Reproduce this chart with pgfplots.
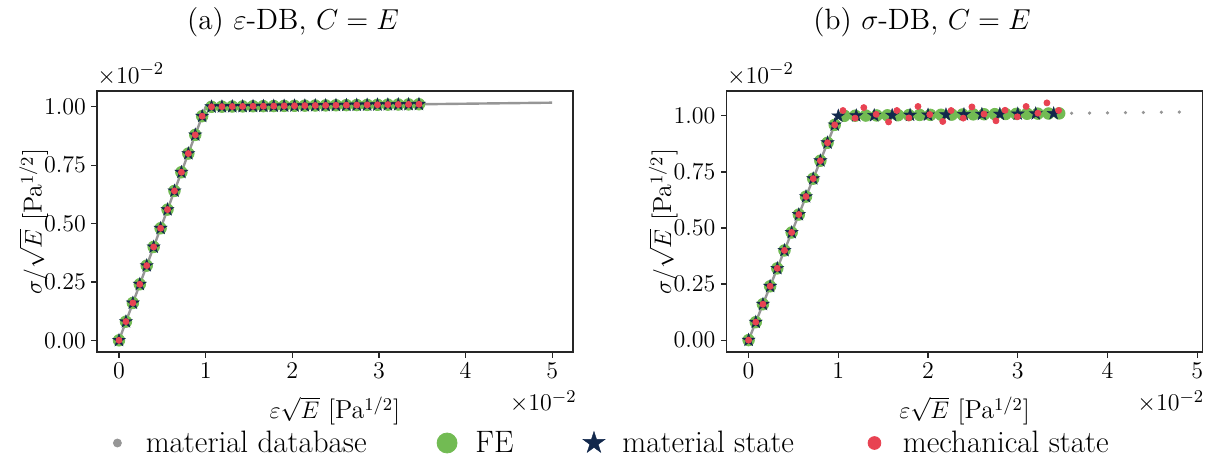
\documentclass[border=0pt]{standalone}
\usepackage{pgfplots}
\pgfplotsset{compat=1.18}
\definecolor{dbgray}{RGB}{150,150,150}
\definecolor{fegreen}{RGB}{114,187,83}
\definecolor{navy}{RGB}{18,40,76}
\definecolor{mechred}{RGB}{232,66,82}
\pgfdeclareplotmark{fstar}{%
  \pgfpathmoveto{\pgfpointpolar{90}{\pgfplotmarksize}}%
  \pgfpathlineto{\pgfpointpolar{126}{0.382\pgfplotmarksize}}%
  \pgfpathlineto{\pgfpointpolar{162}{\pgfplotmarksize}}%
  \pgfpathlineto{\pgfpointpolar{198}{0.382\pgfplotmarksize}}%
  \pgfpathlineto{\pgfpointpolar{234}{\pgfplotmarksize}}%
  \pgfpathlineto{\pgfpointpolar{270}{0.382\pgfplotmarksize}}%
  \pgfpathlineto{\pgfpointpolar{306}{\pgfplotmarksize}}%
  \pgfpathlineto{\pgfpointpolar{342}{0.382\pgfplotmarksize}}%
  \pgfpathlineto{\pgfpointpolar{18}{\pgfplotmarksize}}%
  \pgfpathlineto{\pgfpointpolar{54}{0.382\pgfplotmarksize}}%
  \pgfpathclose\pgfusepathqfillstroke}
\pgfplotsset{ddstyle/.style={
  scale only axis, width=238pt, height=130.5pt,
  axis line style={black!85, line width=0.6pt},
  tick align=outside, tick pos=left,
  major tick length=2.8pt,
  every tick/.style={black!85, line width=0.6pt},
  xtick={0,1,2,3,4,5}, ytick={0,0.25,0.5,0.75,1},
  yticklabel style={/pgf/number format/.cd, fixed, fixed zerofill, precision=2},
  tick label style={font=\fontsize{12.2}{14}\selectfont, inner sep=2.6pt},
  label style={font=\fontsize{13}{15}\selectfont},
  xlabel={$\varepsilon\sqrt{E}$ [Pa$^{1/2}$]},
  ylabel={$\sigma/\sqrt{E}$ [Pa$^{1/2}$]},
  xlabel style={at={(axis description cs:0.5,-0.226)}, anchor=center, inner sep=0.5pt},
  ylabel style={at={(axis description cs:-0.133,0.5)}, anchor=center, inner sep=0.5pt},
  scaled ticks=false, clip=false,
}}
\begin{document}
\begin{tikzpicture}
\useasboundingbox (0,0) rectangle (605pt,229.5pt);
% ---------------- (a) ----------------
\begin{axis}[ddstyle, at={(48.5pt,53.5pt)}, anchor=south west,
  xmin=-0.254, xmax=5.24, ymin=-0.05, ymax=1.068]
\addplot[dbgray, line width=1.2pt, no marks] coordinates {(0,0) (1,1) (5,1.018)};
\addplot[only marks, mark=*, mark size=2.9pt, color=fegreen] coordinates {
(0,0)(0.08,0.08)(0.16,0.16)(0.24,0.24)(0.32,0.32)(0.40,0.40)(0.48,0.48)(0.56,0.56)(0.64,0.64)(0.72,0.72)(0.80,0.80)(0.88,0.88)(0.96,0.96)
(1.068,1.0003)(1.188,1.0008)(1.307,1.0014)(1.427,1.0019)(1.547,1.0025)(1.666,1.0030)(1.786,1.0035)(1.906,1.0041)(2.026,1.0046)(2.145,1.0052)(2.265,1.0057)(2.385,1.0062)(2.504,1.0068)(2.624,1.0073)(2.744,1.0078)(2.864,1.0084)(2.983,1.0089)(3.103,1.0095)(3.223,1.0100)(3.342,1.0105)(3.462,1.0111)};
\addplot[only marks, mark=fstar, mark size=3.4pt, color=navy, mark options={fill=navy, draw=navy, line width=0.2pt}] coordinates {
(0,0)(0.08,0.08)(0.16,0.16)(0.24,0.24)(0.32,0.32)(0.40,0.40)(0.48,0.48)(0.56,0.56)(0.64,0.64)(0.72,0.72)(0.80,0.80)(0.88,0.88)(0.96,0.96)
(1.068,1.0003)(1.188,1.0008)(1.307,1.0014)(1.427,1.0019)(1.547,1.0025)(1.666,1.0030)(1.786,1.0035)(1.906,1.0041)(2.026,1.0046)(2.145,1.0052)(2.265,1.0057)(2.385,1.0062)(2.504,1.0068)(2.624,1.0073)(2.744,1.0078)(2.864,1.0084)(2.983,1.0089)(3.103,1.0095)(3.223,1.0100)(3.342,1.0105)(3.462,1.0111)};
\addplot[only marks, mark=*, mark size=1.5pt, color=mechred] coordinates {
(0,0)(0.08,0.08)(0.16,0.16)(0.24,0.24)(0.32,0.32)(0.40,0.40)(0.48,0.48)(0.56,0.56)(0.64,0.64)(0.72,0.72)(0.80,0.80)(0.88,0.88)(0.96,0.96)
(1.068,1.0003)(1.188,1.0008)(1.307,1.0014)(1.427,1.0019)(1.547,1.0025)(1.666,1.0030)(1.786,1.0035)(1.906,1.0041)(2.026,1.0046)(2.145,1.0052)(2.265,1.0057)(2.385,1.0062)(2.504,1.0068)(2.624,1.0073)(2.744,1.0078)(2.864,1.0084)(2.983,1.0089)(3.103,1.0095)(3.223,1.0100)(3.342,1.0105)(3.462,1.0111)};
\node[anchor=south west, inner sep=0pt, font=\fontsize{12.2}{14}\selectfont] at (rel axis cs:0,1) [yshift=2.5pt] {$\times10^{-2}$};
\node[anchor=east, inner sep=0pt, font=\fontsize{12.2}{14}\selectfont] at (axis description cs:1,-0.19) [xshift=2pt] {$\times10^{-2}$};
\end{axis}
% ---------------- (b) ----------------
\begin{axis}[ddstyle, at={(363.3pt,53.5pt)}, anchor=south west,
  xmin=-0.245, xmax=5.06, ymin=-0.053, ymax=1.111,
  legend columns=4,
  legend style={at={(-0.2516,-0.3487)}, anchor=center, draw=none, fill=none,
    font=\fontsize{15.5}{18}\selectfont,
    /tikz/every even column/.append style={column sep=30pt}},
  legend image code/.code={\path (0pt,0pt) (20pt,0pt); \draw[#1] plot coordinates {(8pt,0pt)};}]
\addplot[dbgray, line width=1.2pt, no marks, forget plot] coordinates {(0,0) (1,1)};
\addplot[only marks, mark=*, mark size=0.6pt, color=dbgray, forget plot] coordinates {
(1.0,1.0)(1.2,1.0009)(1.4,1.0018)(1.6,1.0027)(1.8,1.0036)(2.0,1.0045)(2.2,1.0054)(2.4,1.0063)(2.6,1.0072)(2.8,1.0081)(3.0,1.0090)(3.2,1.0099)(3.4,1.0108)(3.6,1.0117)(3.8,1.0126)(4.0,1.0135)(4.2,1.0144)(4.4,1.0153)(4.6,1.0162)(4.8,1.0171)};
\addplot[only marks, mark=*, mark size=2.9pt, color=fegreen, forget plot] coordinates {
(0,0)(0.08,0.08)(0.16,0.16)(0.24,0.24)(0.32,0.32)(0.40,0.40)(0.48,0.48)(0.56,0.56)(0.64,0.64)(0.72,0.72)(0.80,0.80)(0.88,0.88)(0.96,0.96)
(1.068,1.0003)(1.188,1.0008)(1.307,1.0014)(1.427,1.0019)(1.547,1.0025)(1.666,1.0030)(1.786,1.0035)(1.906,1.0041)(2.026,1.0046)(2.145,1.0052)(2.265,1.0057)(2.385,1.0062)(2.504,1.0068)(2.624,1.0073)(2.744,1.0078)(2.864,1.0084)(2.983,1.0089)(3.103,1.0095)(3.223,1.0100)(3.342,1.0105)(3.462,1.0111)};
\addplot[only marks, mark=fstar, mark size=3.4pt, color=navy, mark options={fill=navy, draw=navy, line width=0.2pt}, forget plot] coordinates {
(0,0)(0.08,0.08)(0.16,0.16)(0.24,0.24)(0.32,0.32)(0.40,0.40)(0.48,0.48)(0.56,0.56)(0.64,0.64)(0.72,0.72)(0.80,0.80)(0.88,0.88)(0.96,0.96)
(1.0,1.0)(1.2,1.0009)(1.4,1.0018)(1.6,1.0027)(1.8,1.0036)(2.0,1.0045)(2.2,1.0054)(2.4,1.0063)(2.6,1.0072)(2.8,1.0081)(3.0,1.0090)(3.2,1.0099)(3.4,1.0108)};
\addplot[only marks, mark=*, mark size=1.5pt, color=mechred, forget plot] coordinates {
(0,0)(0.08,0.08)(0.16,0.16)(0.24,0.24)(0.32,0.32)(0.40,0.40)(0.48,0.48)(0.56,0.56)(0.64,0.64)(0.72,0.72)(0.80,0.80)(0.88,0.88)(0.96,0.96)
(1.052,1.024)(1.187,0.990)(1.284,1.037)(1.422,1.007)(1.560,0.973)(1.653,1.024)(1.787,0.991)(1.888,1.042)(2.019,1.006)(2.164,0.975)(2.257,1.024)(2.392,0.990)(2.489,1.040)(2.623,1.008)(2.757,0.978)(2.858,1.025)(2.996,0.996)(3.093,1.042)(3.224,1.012)(3.325,1.058)(3.455,1.024)};
\addlegendimage{only marks, mark=*, mark size=2pt, color=dbgray}
\addlegendentry{material database}
\addlegendimage{only marks, mark=*, mark size=5pt, color=fegreen}
\addlegendentry{FE}
\addlegendimage{only marks, mark=fstar, mark size=5.8pt, color=navy, mark options={fill=navy, draw=navy, line width=0.2pt}}
\addlegendentry{material state}
\addlegendimage{only marks, mark=*, mark size=3.2pt, color=mechred}
\addlegendentry{mechanical state}
\node[anchor=south west, inner sep=0pt, font=\fontsize{12.2}{14}\selectfont] at (rel axis cs:0,1) [yshift=2.5pt] {$\times10^{-2}$};
\node[anchor=east, inner sep=0pt, font=\fontsize{12.2}{14}\selectfont] at (axis description cs:1,-0.19) [xshift=1pt] {$\times10^{-2}$};
\end{axis}
\node[font=\fontsize{14.7}{17}\selectfont] at (146.5pt,218.5pt) {(a) $\varepsilon$-DB, $C=E$};
\node[font=\fontsize{14.7}{17}\selectfont] at (461pt,218.5pt) {(b) $\sigma$-DB, $C=E$};
\end{tikzpicture}
\end{document}
